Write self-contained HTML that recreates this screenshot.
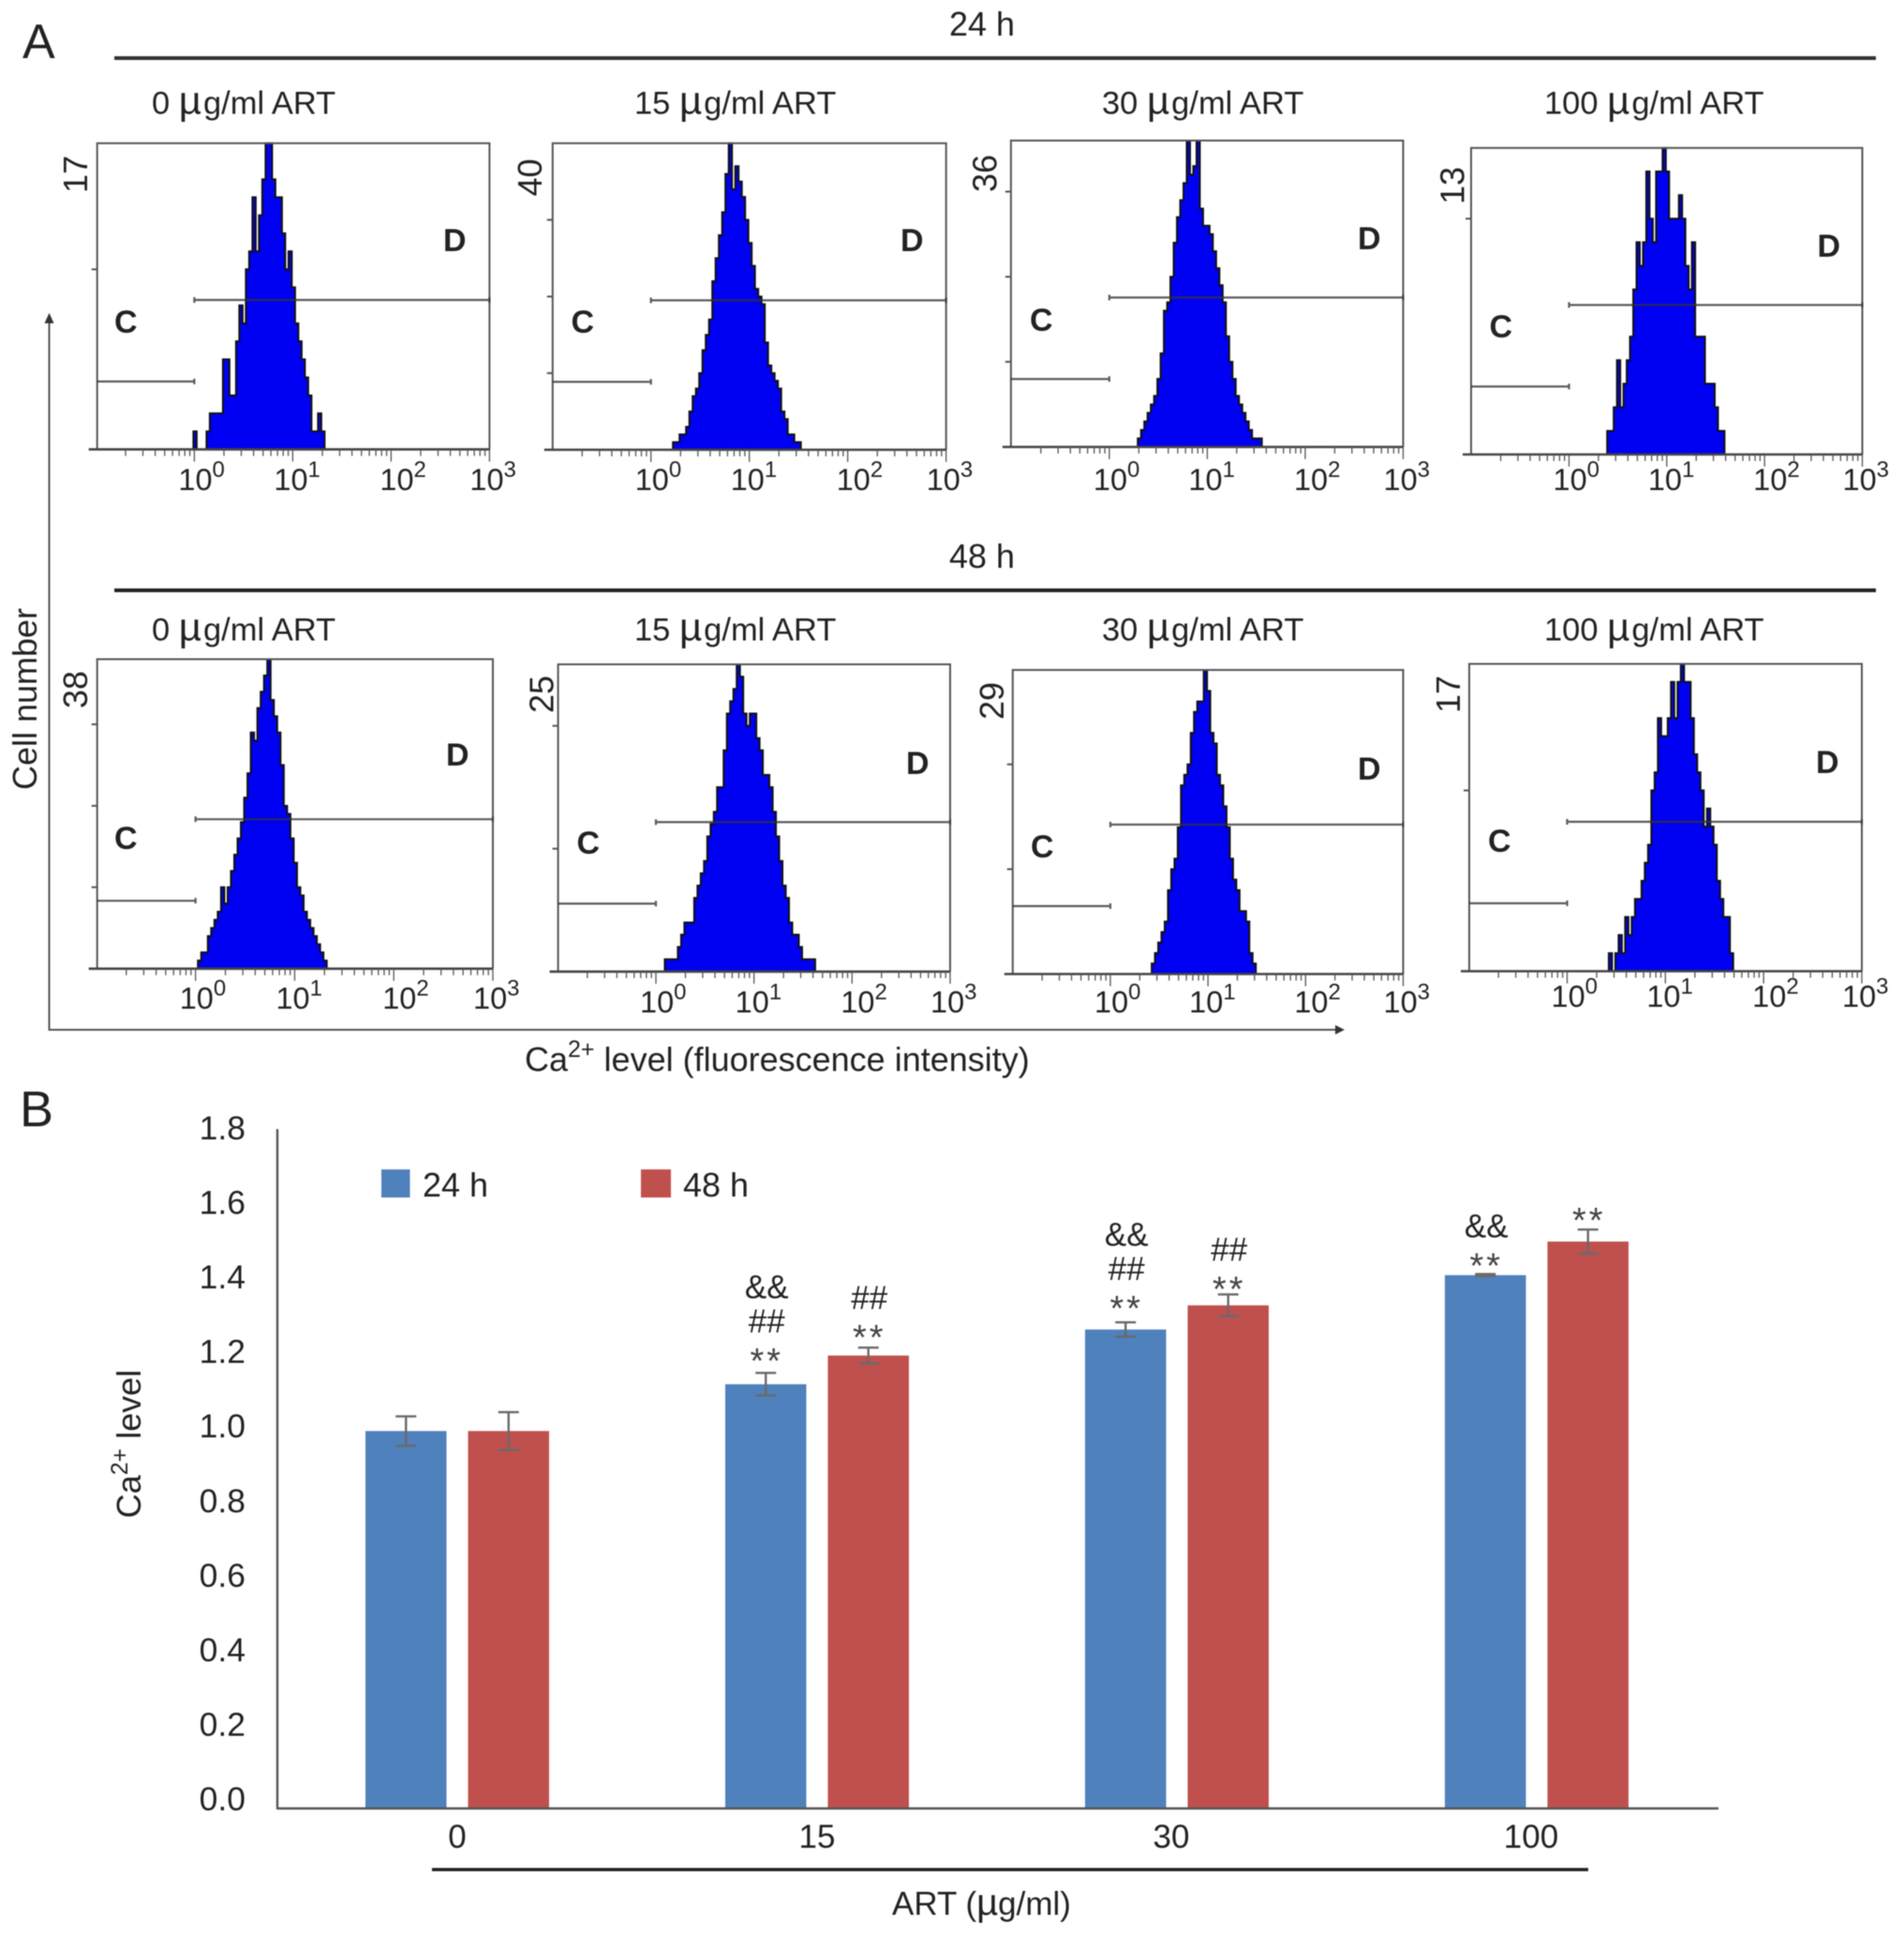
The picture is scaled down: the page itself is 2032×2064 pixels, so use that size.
<!DOCTYPE html>
<html lang="en">
<head>
<meta charset="utf-8">
<title>Ca2+ level flow cytometry and bar chart</title>
<style>
html,body{margin:0;padding:0;background:#fff;}
#figure{display:block;width:2032px;height:2064px;filter:blur(.6px);}
text{font-family:"Liberation Sans",sans-serif;fill:#222;}
</style>
</head>
<body>
<svg id="figure" xmlns="http://www.w3.org/2000/svg" width="2032" height="2064" viewBox="0 0 2032 2064">
  <rect x="0" y="0" width="2032" height="2064" fill="#fff"/>
  <text x="24" y="62" font-size="52">A</text>
  <text x="21" y="1202" font-size="54">B</text>
  <text x="1013" y="38" font-size="36">24 h</text>
  <rect x="122" y="60" width="1880" height="4" fill="#333"/>
  <text x="1013" y="606" font-size="36">48 h</text>
  <rect x="122" y="628" width="1880" height="4" fill="#222"/>
  <text transform="translate(39 746) rotate(-90)" text-anchor="middle" font-size="36">Cell number</text>
  <line x1="52.5" y1="342" x2="52.5" y2="1100" stroke="#555" stroke-width="2"/>
  <polygon points="52.5,334 47.5,345 57.5,345" fill="#333"/>
  <line x1="52" y1="1099" x2="1428" y2="1099" stroke="#555" stroke-width="2"/>
  <polygon points="1435,1099 1425,1094 1425,1104" fill="#333"/>
  <text x="560" y="1143" font-size="36">Ca<tspan font-size="25" dy="-15">2+</tspan><tspan dy="15"> level (fluorescence intensity)</tspan></text>
  <g id="flow-panels"></g>
  <g id="bar-chart">
    <text transform="translate(150 1541) rotate(-90)" text-anchor="middle" font-size="36">Ca<tspan font-size="25" dy="-14">2+</tspan><tspan dy="14"> level</tspan></text>
    <rect x="407" y="1248" width="30.5" height="30" fill="#4f81bd"/>
    <text x="451" y="1277" font-size="36">24 h</text>
    <rect x="684" y="1248" width="32" height="30" fill="#c0504d"/>
    <text x="729" y="1277" font-size="36">48 h</text>
    <rect x="461" y="1993.5" width="234" height="3.5" fill="#222"/>
    <rect x="695" y="1993.5" width="1000" height="3.5" fill="#222"/>
    <text x="952" y="2043.5" font-size="35">ART (<tspan font-size="40">µ</tspan><tspan>g/ml)</tspan></text>
  </g>
</svg>
<script>
// ---------- Panel A data: event counts per histogram bin (30 bins per decade, starting at 10^0) ----------
const ymax = [17, 40, 36, 13, 38, 25, 29, 17];
const hist24h0 = [1,0,0,0,1,2,2,2,2,5,5,3,3,6,8,7,10,11,14,11,13,15,17,17,15,14,14,12,10,11,9,7,6,5,4,3,1,1,2,1];
const hist24h15 = [0,0,0,0,0,0,0,1,1,2,2,3,5,7,8,10,13,15,17,22,25,28,31,36,40,34,37,35,33,30,27,24,21,20,19,14,11,10,9,8,5,4,2,2,1,1];
const hist24h30 = [0,0,0,0,0,0,0,0,0,1,2,3,4,5,6,8,11,16,17,20,24,27,29,31,36,32,33,36,28,26,26,25,23,21,19,17,13,10,8,6,5,4,3,2,1,1,1];
const hist24h100 = [0,0,0,0,0,0,0,0,0,0,0,0,1,1,2,4,2,3,4,5,7,9,8,9,12,10,9,12,12,13,12,10,10,10,11,10,8,7,9,5,5,5,3,3,3,2,1,1];
const hist48h0 = [0,1,2,2,4,5,6,7,10,8,10,12,14,16,18,21,24,29,28,32,34,36,38,33,31,29,25,20,19,16,13,10,9,7,6,5,4,3,2,1];
const hist48h15 = [0,0,0,1,1,1,1,2,3,4,4,4,6,7,8,9,11,12,13,15,15,18,21,22,23,25,24,21,20,21,21,19,18,16,16,15,13,11,9,7,6,4,3,3,2,1,1,1,1];
const hist48h30 = [0,0,0,0,0,0,0,0,0,0,0,0,0,1,2,3,4,5,8,10,11,14,18,19,20,23,25,26,26,29,27,23,22,19,18,16,14,11,9,8,6,6,5,2,1];
const hist48h100 = [0,0,0,0,0,0,0,0,0,0,0,0,0,1,0,1,2,1,3,2,3,4,4,5,6,7,10,11,14,13,13,14,16,14,16,17,16,16,14,12,11,10,8,9,8,7,5,4,3,3,1];
const doseValues = ['0', '15', '30', '100'];
const xExponents = [0, 1, 2, 3];
const yTickStep = 10;
const histograms = [hist24h0, hist24h15, hist24h30, hist24h100, hist48h0, hist48h15, hist48h30, hist48h100];

// ---------- Panel B data ----------
const categories = ['0', '15', '30', '100'];
const values24h = [1.0, 1.124, 1.269, 1.413];
const values48h = [1.0, 1.2, 1.333, 1.502];
const errors24h = [0.039, 0.03, 0.019, 0.003];
const errors48h = [0.05, 0.021, 0.029, 0.032];
const yTickLabels = ['0.0', '0.2', '0.4', '0.6', '0.8', '1.0', '1.2', '1.4', '1.6', '1.8'];
const sig24h = [[], ['**', '##', '&&'], ['**', '##', '&&'], ['**', '&&']];
const sig48h = [[], ['**', '##'], ['**', '##'], ['**']];
const sigGap24h = [0, 0.026, 0.02, -0.012];
const sigGap48h = [0, 0.011, 0.006, 0.02];

// ---------- Layout (not data) ----------
const NS = 'http://www.w3.org/2000/svg';
const panelLayout = [
  {id:'24h-0',   l:103.7, r:522.4,  t:152.9, b:479.6,  x0:207.4,  labelY:523,    title:162,  titleY:121.4, numX:93,     numY:186,   cX:122,    cY:355,   dX:473,    dY:268},
  {id:'24h-15',  l:589.8, r:1009.7, t:152.9, b:480,    x0:694.7,  labelY:523,    title:677,  titleY:121.4, numX:578,    numY:189.5, cX:609.5,  cY:355,   dX:961,    dY:268},
  {id:'24h-30',  l:1078.9,r:1497.5, t:150,   b:477,    x0:1183.9, labelY:523,    title:1176, titleY:121.4, numX:1063.6, numY:185,   cX:1099,   cY:353,   dX:1449,   dY:266},
  {id:'24h-100', l:1570,  r:1987.5, t:157.9, b:485,    x0:1674.5, labelY:523,    title:1648, titleY:121.4, numX:1562.4, numY:198,   cX:1589.5, cY:360,   dX:1939.5, dY:274},
  {id:'48h-0',   l:103.7, r:526,    t:703.5, b:1033.8, x0:208.7,  labelY:1076.6, title:162,  titleY:683.6, numX:93,     numY:736,   cX:122,    cY:906,   dX:476,    dY:817},
  {id:'48h-15',  l:595.6, r:1014,   t:709,   b:1036.9, x0:700,    labelY:1080.5, title:677,  titleY:683.6, numX:590.7,  numY:741,   cX:615.5,  cY:911,   dX:967,    dY:826},
  {id:'48h-30',  l:1080.8,r:1497.5, t:715,   b:1039.5, x0:1185,   labelY:1080.5, title:1176, titleY:683.6, numX:1071.2, numY:748,   cX:1100,   cY:915,   dX:1449,   dY:832},
  {id:'48h-100', l:1568,  r:1987,   t:708.5, b:1036.5, x0:1672.5, labelY:1074.7, title:1648, titleY:683.6, numX:1558,   numY:741,   cX:1588,   cY:909,   dX:1938,   dY:825}
];
const gateOffsets = {d:159.5, c:72.5};
const labelOffsets = [-17, -20, -12, -21];
const histShift = -1;
const binsPerDecade = 30;

function svgEl(tag, attrs, parent) {
  const n = document.createElementNS(NS, tag);
  for (const k in attrs) n.setAttribute(k, attrs[k]);
  parent.appendChild(n);
  return n;
}

const flowRoot = document.getElementById('flow-panels');
panelLayout.forEach(function (p, idx) {
  const decade = (p.r - p.x0) / 3;
  const xScale = function (logValue) { return p.x0 + logValue * decade; };
  const yScale = function (count) { return p.b - (count / ymax[idx]) * (p.b - p.t); };

  const g = svgEl('g', {}, flowRoot);
  
  

  const title = svgEl('text', {x: p.title, y: p.titleY, 'font-size': 34.5}, g);
  
  
  title.appendChild(document.createTextNode(doseValues[idx % 4] + ' '));
  const mu = svgEl('tspan', {'font-size': 42}, title);
  mu.textContent = 'µ';
  const unit = svgEl('tspan', {dx: 2}, title);
  unit.textContent = 'g/ml ART';

  // histogram
  const counts = histograms[idx];
  let d = 'M' + (xScale(0) + histShift).toFixed(2) + ' ' + p.b;
  counts.forEach(function (c, i) {
    const a = (xScale(i / binsPerDecade) + histShift).toFixed(2);
    const b = (xScale((i + 1) / binsPerDecade) + histShift).toFixed(2);
    const y = yScale(c).toFixed(2);
    d += 'L' + a + ' ' + y + 'L' + b + ' ' + y;
  });
  d += 'L' + (xScale(counts.length / binsPerDecade) + histShift).toFixed(2) + ' ' + p.b + 'Z';
  const hist = svgEl('path', {d: d, fill: '#0000f2', stroke: '#111', 'stroke-width': 2}, g);
  
  

  // frame
  const frame = svgEl('path', {d: 'M' + p.l + ' ' + p.b + 'V' + p.t + 'H' + p.r + 'V' + p.b, fill: 'none', stroke: '#555', 'stroke-width': 2}, g);
  
  

  const xAxis = svgEl('line', {x1: p.l - 9, y1: p.b, x2: p.r, y2: p.b, stroke: '#444', 'stroke-width': 2.6}, g);
  
  

  // log ticks
  let tickPath = '';
  for (let dec = -1; dec < 3; dec++) {
    for (let m = 2; m <= 10; m++) {
      const tx = xScale(dec + Math.log10(m)).toFixed(2);
      tickPath += 'M' + tx + ' ' + p.b + 'v' + (m === 10 ? 13 : 7);
    }
  }
  const ticks = svgEl('path', {d: tickPath, stroke: '#555', 'stroke-width': 1.3, fill: 'none'}, g);
  
  

  // y ticks
  let yPath = '';
  for (let c = yTickStep; c < ymax[idx]; c += yTickStep) {
    yPath += 'M' + (p.l - 6) + ' ' + yScale(c).toFixed(2) + 'H' + p.l;
  }
  const yTicks = svgEl('path', {d: yPath, stroke: '#555', 'stroke-width': 2, fill: 'none'}, g);
  
  

  // y max number
  const num = svgEl('text', {transform: 'translate(' + p.numX + ' ' + p.numY + ') rotate(-90)', 'text-anchor': 'middle', 'font-size': 36}, g);
  num.textContent = String(ymax[idx]);
  
  

  // x labels
  xExponents.forEach(function (e, i) {
    const t = svgEl('text', {x: xScale(e) + labelOffsets[i], y: p.labelY, 'font-size': 32.5}, g);
    
    
    t.appendChild(document.createTextNode('10'));
    const s = svgEl('tspan', {dy: -14, 'font-size': 24}, t);
    s.textContent = String(e);
  });

  // gates
  const gateC = svgEl('path', {d: 'M' + p.l + ' ' + (p.b - gateOffsets.c) + 'H' + p.x0 + 'M' + p.x0 + ' ' + (p.b - gateOffsets.c - 3) + 'v6', stroke: '#333', 'stroke-opacity': 0.8, 'stroke-width': 2.2, fill: 'none'}, g);
  
  
  const gateD = svgEl('path', {d: 'M' + p.x0 + ' ' + (p.b - gateOffsets.d) + 'H' + p.r + 'M' + p.x0 + ' ' + (p.b - gateOffsets.d - 3) + 'v6M' + p.r + ' ' + (p.b - gateOffsets.d - 3) + 'v6', stroke: '#333', 'stroke-opacity': 0.8, 'stroke-width': 2.2, fill: 'none'}, g);
  
  

  const cLabel = svgEl('text', {x: p.cX, y: p.cY, 'font-size': 34, 'font-weight': 'bold'}, g);
  cLabel.textContent = 'C';
  
  
  const dLabel = svgEl('text', {x: p.dX, y: p.dY, 'font-size': 34, 'font-weight': 'bold'}, g);
  dLabel.textContent = 'D';
  
  
});

// ---------- Bar chart ----------
const barRoot = document.getElementById('bar-chart');
const axisX = 296, baseY = 1930, axisTop = 1205, axisRight = 1834;
const valueMax = 1.8;
const yAxisScale = function (v) { return baseY - (v / valueMax) * (baseY - axisTop); };
const yLabelScale = function (v) { return 1932 - (v / valueMax) * (1932 - 1216); };
const groupX = function (i) { return 488 + i * 384; };
const categoryLabelNudge = function (i) { return i < 2 ? 0 : -6; };
const barWidth = 86.5, barGap = 23;

const yAxisLine = svgEl('line', {x1: axisX, y1: axisTop, x2: axisX, y2: baseY + 1, stroke: '#555', 'stroke-width': 2.4}, barRoot);



yTickLabels.forEach(function (lab) {
  const t = svgEl('text', {x: 262, y: yLabelScale(parseFloat(lab)), 'text-anchor': 'end', 'font-size': 35.5}, barRoot);
  t.textContent = lab;
  
  
});

function drawSeries(values, errors, sig, gaps, colour, side, key) {
  values.forEach(function (v, i) {
    const cx = groupX(i) + side * (barGap / 2 + barWidth / 2);
    const top = yAxisScale(v);
    const bar = svgEl('rect', {x: cx - barWidth / 2, y: top, width: barWidth, height: baseY - top, fill: colour}, barRoot);
    
    

    const hi = yAxisScale(v + errors[i]);
    const lo = yAxisScale(v - errors[i]);
    const eb = svgEl('path', {d: 'M' + cx + ' ' + hi + 'V' + lo + 'M' + (cx - 11) + ' ' + hi + 'h22M' + (cx - 11) + ' ' + lo + 'h22', stroke: '#6a6a6a', 'stroke-width': 2.4, fill: 'none'}, barRoot);
    
    

    let baseline = yAxisScale(v + gaps[i]);
    sig[i].forEach(function (sym, k) {
      if (k === 1) baseline -= 45;
      if (k === 2) baseline -= 36.5;
      const isStar = sym === '**';
      const t = svgEl('text', {x: cx + 1, y: isStar ? baseline - 2 : baseline, 'text-anchor': 'middle', 'font-size': isStar ? 38 : 35}, barRoot);
      if (isStar) {
        t.setAttribute('letter-spacing', '3');
        t.setAttribute('style', 'fill:#444');
      }
      t.textContent = sym;
      
      
    });
  });
}
drawSeries(values24h, errors24h, sig24h, sigGap24h, '#4f81bd', -1, '24h');
drawSeries(values48h, errors48h, sig48h, sigGap48h, '#c0504d', 1, '48h');

const xAxisLine = svgEl('line', {x1: axisX, y1: baseY, x2: axisRight, y2: baseY, stroke: '#555', 'stroke-width': 2.4}, barRoot);



categories.forEach(function (c, i) {
  const t = svgEl('text', {x: groupX(i) + categoryLabelNudge(i), y: 1972, 'text-anchor': 'middle', 'font-size': 35}, barRoot);
  t.textContent = c;
  
  
});
</script>
</body>
</html>
